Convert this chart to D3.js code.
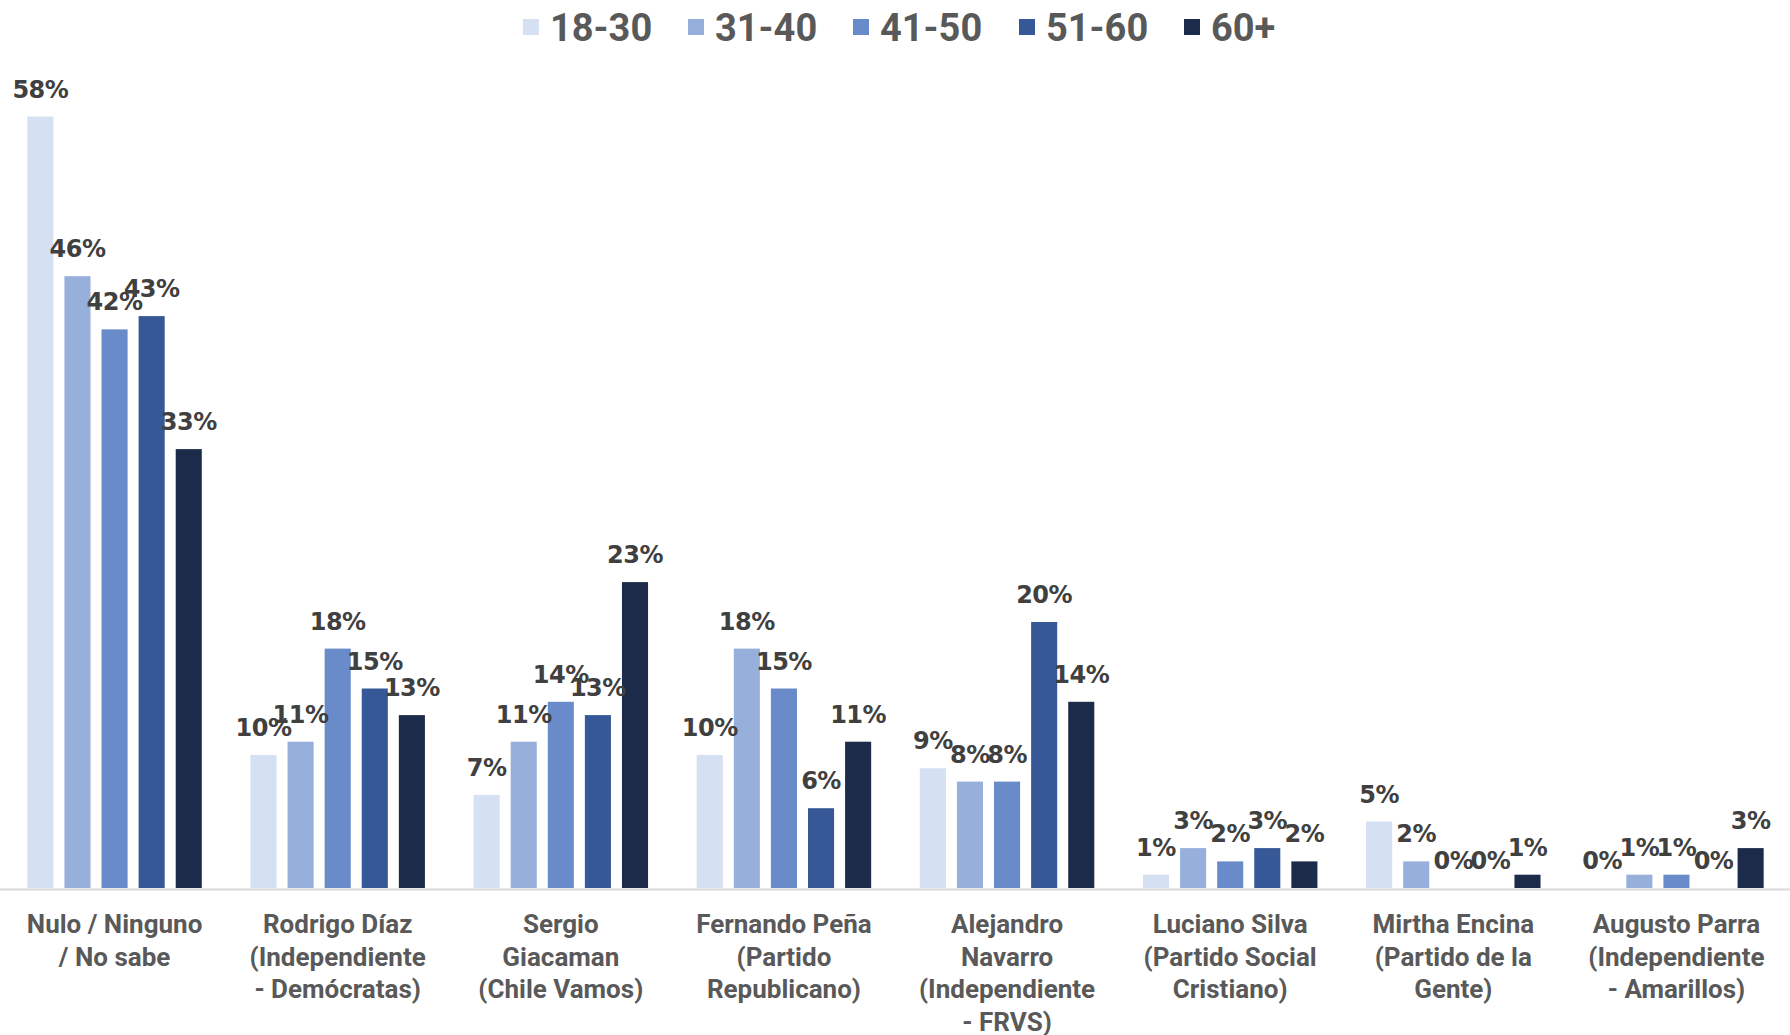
<!DOCTYPE html>
<html><head><meta charset="utf-8">
<script src="https://cdn.jsdelivr.net/npm/d3@7"></script>
<style>body{margin:0;background:#fff}svg{display:block}</style>
</head><body>
<svg id="chart" width="1790" height="1035"></svg>
<script>
const categories = [
  ["Nulo / Ninguno", "/ No sabe"],
  ["Rodrigo Díaz", "(Independiente", "- Demócratas)"],
  ["Sergio", "Giacaman", "(Chile Vamos)"],
  ["Fernando Peña", "(Partido", "Republicano)"],
  ["Alejandro", "Navarro", "(Independiente", "- FRVS)"],
  ["Luciano Silva", "(Partido Social", "Cristiano)"],
  ["Mirtha Encina", "(Partido de la", "Gente)"],
  ["Augusto Parra", "(Independiente", "- Amarillos)"]
];
const seriesNames = ["18-30", "31-40", "41-50", "51-60", "60+"];
const s1830 = [58, 10, 7, 10, 9, 1, 5, 0];
const s3140 = [46, 11, 11, 18, 8, 3, 2, 1];
const s4150 = [42, 18, 14, 15, 8, 2, 0, 1];
const s5160 = [43, 15, 13, 6, 20, 3, 0, 0];
const s60p  = [33, 13, 23, 11, 14, 2, 1, 3];
const seriesValues = [s1830, s3140, s4150, s5160, s60p];
const colors = ["#D5E0F3", "#97AFDB", "#6A8BC9", "#365897", "#1D2B4A"];

const svg = d3.select("#chart");
const W = 1790, H = 1035;
const left = 3, right = 1788, baseY = 888;

const x0 = d3.scaleBand().domain(d3.range(categories.length)).range([left, right]).paddingInner(0).paddingOuter(0);
const x1 = d3.scaleBand().domain(seriesNames).range([0, x0.bandwidth()]).paddingInner(0.297).paddingOuter(0.656);
const y = d3.scaleLinear().domain([0, 60]).range([baseY, baseY - 60 * 13.3]);

const groups = svg.selectAll("g.grp").data(categories.map((c, i) => i)).join("g")
  .attr("class", "grp").attr("transform", i => `translate(${x0(i)},0)`);

groups.selectAll("rect").data(i => seriesNames.map((s, k) => ({s, k, v: seriesValues[k][i]}))).join("rect")
  .attr("x", d => x1(d.s)).attr("width", x1.bandwidth())
  .attr("y", d => y(d.v)).attr("height", d => baseY - y(d.v))
  .attr("fill", d => colors[d.k]);

groups.selectAll("text.val").data(i => seriesNames.map((s, k) => ({s, k, v: seriesValues[k][i]}))).join("text")
  .attr("class", "val")
  .attr("x", d => x1(d.s) + x1.bandwidth() / 2)
  .attr("y", d => y(d.v) - 19)
  .attr("text-anchor", "middle")
  .attr("font-family", "DejaVu Sans, sans-serif").attr("font-weight", "bold")
  .attr("font-size", 24).attr("fill", "#404040")
  .attr("letter-spacing", "-0.5")
  .text(d => d3.format(".0f")(d.v) + "%");

// axis baseline
svg.append("line").attr("x1", 0).attr("x2", W).attr("y1", baseY + 1.5).attr("y2", baseY + 1.5)
  .attr("stroke", "#d9d9d9").attr("stroke-width", 2);

// category labels
const xAxis = svg.append("g");
categories.forEach((lines, i) => {
  const t = xAxis.append("text")
    .attr("x", x0(i) + x0.bandwidth() / 2).attr("y", 933)
    .attr("text-anchor", "middle")
    .attr("font-family", "Roboto, sans-serif").attr("font-weight", "bold")
    .attr("font-size", 26).attr("fill", "#595959");
  lines.forEach((ln, j) => t.append("tspan").attr("x", x0(i) + x0.bandwidth() / 2).attr("dy", j === 0 ? 0 : 32.5).text(ln));
});

// legend
const legX = [523, 688, 853, 1019, 1184];
const leg = svg.append("g");
seriesNames.forEach((s, k) => {
  leg.append("rect").attr("x", legX[k]).attr("y", 19).attr("width", 16).attr("height", 16).attr("fill", colors[k]);
  leg.append("text").attr("x", legX[k] + 27).attr("y", 41)
    .attr("font-family", "Roboto, sans-serif").attr("font-weight", "bold")
    .attr("font-size", 38).attr("fill", "#595959").text(s);
});
</script>
</body></html>
